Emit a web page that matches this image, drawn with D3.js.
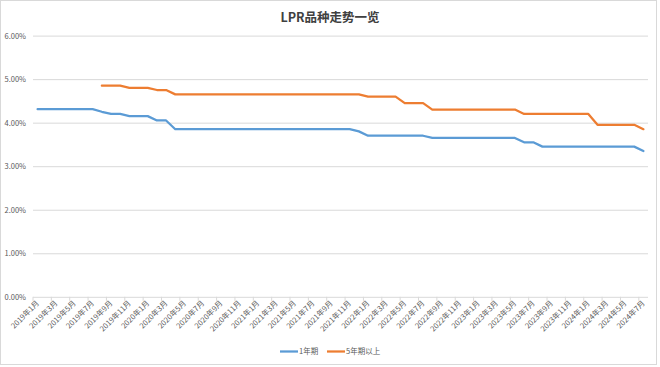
<!DOCTYPE html>
<html>
<head>
<meta charset="utf-8">
<script src="https://cdn.jsdelivr.net/npm/d3@7"></script>
<style>
  html, body { margin: 0; padding: 0; background: #ffffff; }
  svg { display: block; font-family: "Noto Sans CJK SC", "Noto Sans", sans-serif; }
</style>
</head>
<body>
<svg id="chart" width="660" height="367"></svg>
<script>
const title = "LPR品种走势一览";
const months = [
  "2019年1月","2019年2月","2019年3月","2019年4月","2019年5月","2019年6月","2019年7月","2019年8月","2019年9月","2019年10月","2019年11月","2019年12月",
  "2020年1月","2020年2月","2020年3月","2020年4月","2020年5月","2020年6月","2020年7月","2020年8月","2020年9月","2020年10月","2020年11月","2020年12月",
  "2021年1月","2021年2月","2021年3月","2021年4月","2021年5月","2021年6月","2021年7月","2021年8月","2021年9月","2021年10月","2021年11月","2021年12月",
  "2022年1月","2022年2月","2022年3月","2022年4月","2022年5月","2022年6月","2022年7月","2022年8月","2022年9月","2022年10月","2022年11月","2022年12月",
  "2023年1月","2023年2月","2023年3月","2023年4月","2023年5月","2023年6月","2023年7月","2023年8月","2023年9月","2023年10月","2023年11月","2023年12月",
  "2024年1月","2024年2月","2024年3月","2024年4月","2024年5月","2024年6月","2024年7月"
];
const seriesNames = ["1年期", "5年期以上"];
const rate1y = [
  4.31,4.31,4.31,4.31,4.31,4.31,4.31,4.25,4.20,4.20,4.15,4.15,
  4.15,4.05,4.05,3.85,3.85,3.85,3.85,3.85,3.85,3.85,3.85,3.85,
  3.85,3.85,3.85,3.85,3.85,3.85,3.85,3.85,3.85,3.85,3.85,3.80,
  3.70,3.70,3.70,3.70,3.70,3.70,3.70,3.65,3.65,3.65,3.65,3.65,
  3.65,3.65,3.65,3.65,3.65,3.55,3.55,3.45,3.45,3.45,3.45,3.45,
  3.45,3.45,3.45,3.45,3.45,3.45,3.35
];
const rate5y = [
  null,null,null,null,null,null,null,4.85,4.85,4.85,4.80,4.80,
  4.80,4.75,4.75,4.65,4.65,4.65,4.65,4.65,4.65,4.65,4.65,4.65,
  4.65,4.65,4.65,4.65,4.65,4.65,4.65,4.65,4.65,4.65,4.65,4.65,
  4.60,4.60,4.60,4.60,4.45,4.45,4.45,4.30,4.30,4.30,4.30,4.30,
  4.30,4.30,4.30,4.30,4.30,4.20,4.20,4.20,4.20,4.20,4.20,4.20,
  4.20,3.95,3.95,3.95,3.95,3.95,3.85
];
const yTicks = [0, 1, 2, 3, 4, 5, 6];
const colors = ["#5B9BD5", "#ED7D31"];

(function () {
const svg = d3.select("#chart");
const pLeft = 33, pRight = 648, pTop = 35.6, pBottom = 296.8;

// chart border
svg.append("rect").attr("x", 0.5).attr("y", 0.5).attr("width", 656).attr("height", 364)
  .attr("fill", "#fff").attr("stroke", "#D9D9D9").attr("stroke-width", 1);

const x = d3.scalePoint().domain(d3.range(months.length)).range([pLeft, pRight]).padding(0.5);
const step = x.step();
const y = d3.scaleLinear().domain([0, 6]).range([pBottom, pTop]);

// title
svg.append("text").attr("x", 330).attr("y", 22).attr("text-anchor", "middle")
  .attr("font-size", 12.5).attr("font-weight", "bold").attr("fill", "#404040").text(title);

// gridlines + y labels
const yAxis = d3.axisLeft(y).tickValues(yTicks).tickSize(-(pRight - pLeft))
  .tickFormat(d => d3.format(".2f")(d) + "%").tickPadding(7);
const gy = svg.append("g").attr("transform", `translate(${pLeft},0)`).call(yAxis);
gy.select(".domain").remove();
gy.selectAll(".tick line").attr("stroke", "#D9D9D9").attr("stroke-width", 1);
gy.selectAll(".tick text").attr("fill", "#595959").attr("font-size", 7.5)
  .attr("font-family", "\"Noto Sans CJK SC\", sans-serif");

// x tick marks at category boundaries every 2 categories
const tickIdx = d3.range(0, months.length + 1, 2);
svg.append("g").selectAll("line").data(tickIdx).join("line")
  .attr("x1", i => x(0) - step / 2 + i * step).attr("x2", i => x(0) - step / 2 + i * step)
  .attr("y1", pBottom).attr("y2", pBottom + 4)
  .attr("stroke", "#D9D9D9").attr("stroke-width", 1);

// x labels
const labelIdx = d3.range(0, months.length, 2);
svg.append("g").selectAll("text").data(labelIdx).join("text")
  .attr("transform", i => `translate(${x(i) + 2},${pBottom + 7}) rotate(-45)`)
  .attr("text-anchor", "end").attr("font-size", 7.5).attr("fill", "#595959")
  .text(i => months[i]);

// lines
const line = d3.line().defined(d => d[1] != null).x(d => x(d[0])).y(d => y(d[1]));
[rate1y, rate5y].forEach((s, k) => {
  svg.append("path").datum(s.map((v, i) => [i, v]))
    .attr("d", line).attr("fill", "none").attr("stroke", colors[k])
    .attr("stroke-width", 2.25).attr("stroke-linejoin", "round").attr("stroke-linecap", "round");
});

// legend
const legendX = [280, 327];
seriesNames.forEach((n, k) => {
  const g = svg.append("g").attr("transform", `translate(${legendX[k]},351.5)`);
  g.append("line").attr("x1", 0).attr("x2", 18).attr("y1", 0).attr("y2", 0)
    .attr("stroke", colors[k]).attr("stroke-width", 2.25);
  g.append("text").attr("x", 19).attr("y", 2.8).attr("font-size", 7.5).attr("fill", "#595959").text(n);
});
})();
</script>
</body>
</html>
